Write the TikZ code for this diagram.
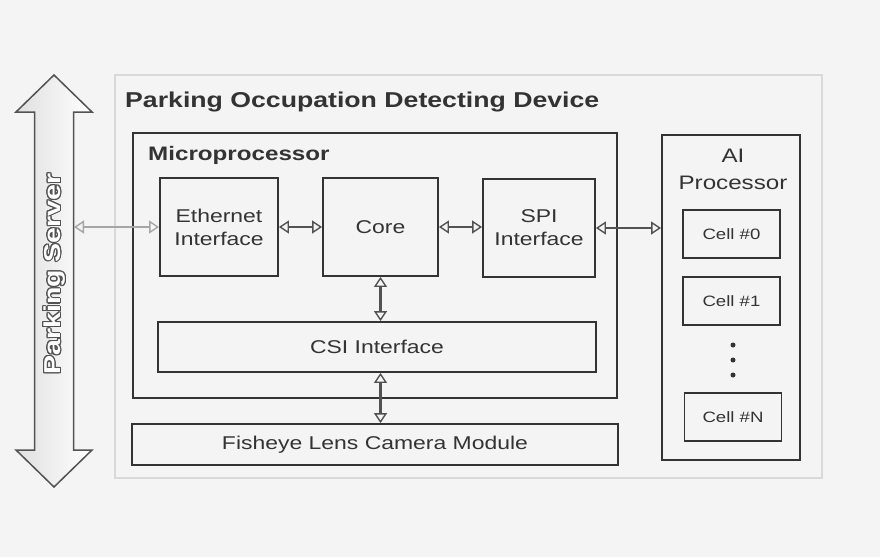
\documentclass[tikz,border=0pt]{standalone}
\usepackage{fontspec}
\setmainfont{Liberation Sans}[FakeStretch=1.24]
\usepackage{contour}
\contourlength{1.1pt}
\usetikzlibrary{arrows.meta}
\definecolor{ink}{HTML}{333333}
\definecolor{bgc}{HTML}{F4F4F4}
\tikzset{
  box/.style={draw=ink, line width=1.8pt, fill=bgc, text=ink, align=center,
    font=\fontsize{18.5}{23}\selectfont, inner sep=0pt},
  cellbox/.style={box, font=\fontsize{15}{18}\selectfont},
  conn/.style={draw=ink!85, line width=2.8pt, {Triangle[open, length=10pt, width=13pt, line width=1.4pt]}-{Triangle[open, length=10pt, width=13pt, line width=1.4pt]}},
  lightconn/.style={conn, draw=gray!70},
}
\begin{document}
\begin{tikzpicture}[x=1pt, y=-1pt]
\useasboundingbox (0,0) rectangle (880,557);
\fill[bgc] (0,0) rectangle (880,557);
% outer device frame
\draw[gray!30, line width=1.5pt] (115,75) rectangle (822,478);
\node[anchor=base west, text=ink, font=\bfseries\fontsize{21.5}{26}\selectfont, inner sep=0pt] (title) at (125,107) {Parking Occupation Detecting Device};
% microprocessor
\node[box, minimum width=484pt, minimum height=265pt] (mp) at (375,265.5) {};
\node[anchor=base west, text=ink, font=\bfseries\fontsize{19.5}{24}\selectfont, inner sep=0pt] (mplabel) at (148,160) {Microprocessor};
\node[box, minimum width=118pt, minimum height=98pt] (eth) at (219,227) {Ethernet\\Interface};
\node[box, minimum width=115pt, minimum height=98pt] (core) at (380.5,227) {Core};
\node[box, minimum width=112pt, minimum height=98pt] (spi) at (539,228) {SPI\\Interface};
\node[box, minimum width=438pt, minimum height=50pt] (csi) at (377,347) {CSI Interface};
\node[box, minimum width=486pt, minimum height=41pt] (fish) at (375,444.5) {Fisheye Lens Camera Module};
% AI processor
\node[box, minimum width=138pt, minimum height=325pt] (ai) at (731,297.5) {};
\node[text=ink, align=center, font=\fontsize{19.5}{27}\selectfont, inner sep=0pt] (ailabel) at (733,169) {AI\\Processor};
\node[cellbox, minimum width=97pt, minimum height=48pt] (c0) at (731.5,234) {Cell \#0};
\node[cellbox, minimum width=97pt, minimum height=48pt] (c1) at (731.5,301) {Cell \#1};
\node[cellbox, minimum width=97pt, minimum height=48pt] (cn) at (733,417) {Cell \#N};
\foreach \yy/\nm in {345/d1,360/d2,375/d3}
  \node[circle, fill=ink, inner sep=0pt, minimum size=5pt] (\nm) at (733,\yy) {};
% parking server arrow
\draw[line width=1.5pt, draw=ink!85, left color=gray!25, right color=white]
  (54,75) -- (92,112) -- (73.5,112) -- (73.5,450) -- (92,450) -- (54,487)
  -- (16,450) -- (34.5,450) -- (34.5,112) -- (16,112) -- cycle;
\node[rotate=90, text=white, font=\bfseries\fontsize{23}{28}\selectfont, inner sep=0pt] (ps) at (55,274) {\contour{ink!85}{Parking Server}};
\coordinate (psr) at (74,227);
% connectors
\draw[lightconn] (psr) -- (eth.west);
\draw[conn] (eth.east) -- (core.west |- eth.east);
\draw[conn] (core.east) -- (spi.west |- core.east);
\draw[conn] (spi.east) -- (ai.west |- spi.east);
\draw[conn] (core.south) -- (csi.north -| core.south);
\draw[conn] (csi.south -| core.south) -- (fish.north -| core.south);
\end{tikzpicture}
\end{document}
